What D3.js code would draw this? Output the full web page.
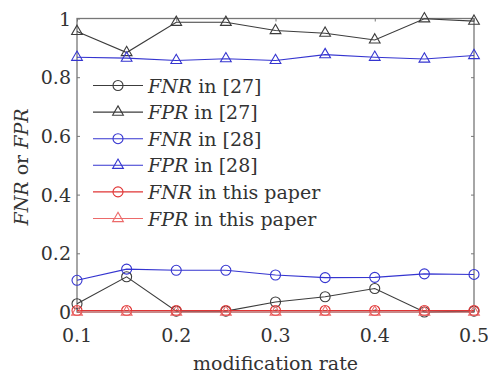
<!DOCTYPE html>
<html>
<head>
  <meta charset="utf-8">
  <script src="https://d3js.org/d3.v7.min.js"></script>
  <style>
    body { margin: 0; background: #fff; }
    svg text { fill: #333; }
  </style>
</head>
<body>
  <svg id="chart"></svg>
  <script>
    const rates = [0.1, 0.15, 0.2, 0.25, 0.3, 0.35, 0.4, 0.45, 0.5];
    const fnr27 = [0.028, 0.12, 0.003, 0.003, 0.034, 0.052, 0.08, 0.0, 0.003];
    const fpr27 = [0.956, 0.884, 0.987, 0.987, 0.959, 0.95, 0.927, 0.999, 0.991];
    const fnr28 = [0.108, 0.146, 0.142, 0.142, 0.126, 0.117, 0.118, 0.13, 0.128];
    const fpr28 = [0.868, 0.865, 0.857, 0.863, 0.857, 0.877, 0.868, 0.862, 0.874];
    const fnrOurs = [0.005, 0.005, 0.005, 0.005, 0.005, 0.005, 0.005, 0.005, 0.005];
    const fprOurs = [0, 0, 0, 0, 0, 0, 0, 0, 0];
    const xTicks = [0.1, 0.2, 0.3, 0.4, 0.5];
    const yTicks = [0, 0.2, 0.4, 0.6, 0.8, 1];

    const W = 488, H = 376;
    const mLeft = 77, mRight = 474, mTop = 18.5, mBottom = 312;
    const serif = "DejaVu Serif";
    const fs = 19;

    const svg = d3.select("#chart").attr("width", W).attr("height", H)
      .attr("font-family", serif);

    const x = d3.scaleLinear().domain([0.1, 0.5]).range([mLeft, mRight]);
    const y = d3.scaleLinear().domain([0, 1]).range([mBottom, mTop]);

    const series = [
      { name: "FNR", ref: " in [27]", values: fnr27, color: "#3c3c3c", shape: "circle" },
      { name: "FPR", ref: " in [27]", values: fpr27, color: "#3c3c3c", shape: "triangle" },
      { name: "FNR", ref: " in [28]", values: fnr28, color: "#3535d0", shape: "circle" },
      { name: "FPR", ref: " in [28]", values: fpr28, color: "#3535d0", shape: "triangle" },
      { name: "FNR", ref: " in this paper", values: fnrOurs, color: "#e03535", shape: "circle" },
      { name: "FPR", ref: " in this paper", values: fprOurs, color: "#ec6a6a", shape: "triangle" }
    ];

    const axisColor = "#777";

    // ticks (inward), box
    function ticks(axis, tx, ty) {
      svg.append("g")
        .attr("transform", `translate(${tx},${ty})`)
        .call(axis.tickSize(-3).tickFormat(""))
        .call(g => g.select(".domain").remove())
        .call(g => g.selectAll("line").attr("stroke", axisColor));
    }
    ticks(d3.axisBottom(x).tickValues(xTicks), 0, mBottom);
    ticks(d3.axisTop(x).tickValues(xTicks), 0, mTop);
    ticks(d3.axisLeft(y).tickValues(yTicks), mLeft, 0);
    ticks(d3.axisRight(y).tickValues(yTicks), mRight, 0);

    svg.append("rect")
      .attr("x", mLeft).attr("y", mTop)
      .attr("width", mRight - mLeft).attr("height", mBottom - mTop)
      .attr("fill", "none").attr("stroke", axisColor).attr("stroke-width", 1.3);

    // tick labels
    svg.selectAll(".xlab").data(xTicks).join("text")
      .attr("font-family", serif)
      .attr("x", d => x(d)).attr("y", 342)
      .attr("text-anchor", "middle").attr("font-size", fs)
      .text(d => d3.format(".1f")(d));
    svg.selectAll(".ylab").data(yTicks).join("text")
      .attr("font-family", serif)
      .attr("x", mLeft - 6).attr("y", d => y(d) + 7)
      .attr("text-anchor", "end").attr("font-size", fs)
      .text(d => d === 0 || d === 1 ? d : d3.format(".1f")(d));

    svg.append("text")
      .attr("font-family", serif)
      .attr("x", (mLeft + mRight) / 2).attr("y", 370)
      .attr("text-anchor", "middle").attr("font-size", fs)
      .text("modification rate");

    const ylab = svg.append("text")
      .attr("font-family", serif)
      .attr("transform", `translate(28,167) rotate(-90)`)
      .attr("text-anchor", "middle").attr("font-size", fs);
    ylab.append("tspan").attr("font-style", "italic").text("FNR");
    ylab.append("tspan").text(" or ");
    ylab.append("tspan").attr("font-style", "italic").text("FPR");

    const tri = d3.symbol().type(d3.symbolTriangle).size(50);
    function marker(g, shape, color) {
      if (shape === "circle") {
        g.append("circle").attr("r", 5).attr("fill", "none")
          .attr("stroke", color).attr("stroke-width", 1.1);
      } else {
        g.append("path").attr("d", tri).attr("fill", "none")
          .attr("stroke", color).attr("stroke-width", 1.1);
      }
    }

    const line = d3.line().x((d, i) => x(rates[i])).y(d => y(d));

    series.forEach(s => {
      svg.append("path")
        .attr("d", line(s.values))
        .attr("fill", "none").attr("stroke", s.color).attr("stroke-width", 1.1);
      s.values.forEach((v, i) => {
        const g = svg.append("g").attr("transform", `translate(${x(rates[i])},${y(v)})`);
        marker(g, s.shape, s.color);
      });
    });

    // legend
    const legY0 = 85.5, legStep = 26.6;
    series.forEach((s, i) => {
      const ly = legY0 + i * legStep;
      svg.append("line")
        .attr("x1", 93).attr("x2", 143).attr("y1", ly).attr("y2", ly)
        .attr("stroke", s.color).attr("stroke-width", 1.1);
      const g = svg.append("g").attr("transform", `translate(118,${ly})`);
      marker(g, s.shape, s.color);
      const t = svg.append("text").attr("font-family", serif)
        .attr("x", 148).attr("y", ly + 7).attr("font-size", fs);
      t.append("tspan").attr("font-style", "italic").text(s.name);
      t.append("tspan").text(s.ref);
    });
  </script>
</body>
</html>
